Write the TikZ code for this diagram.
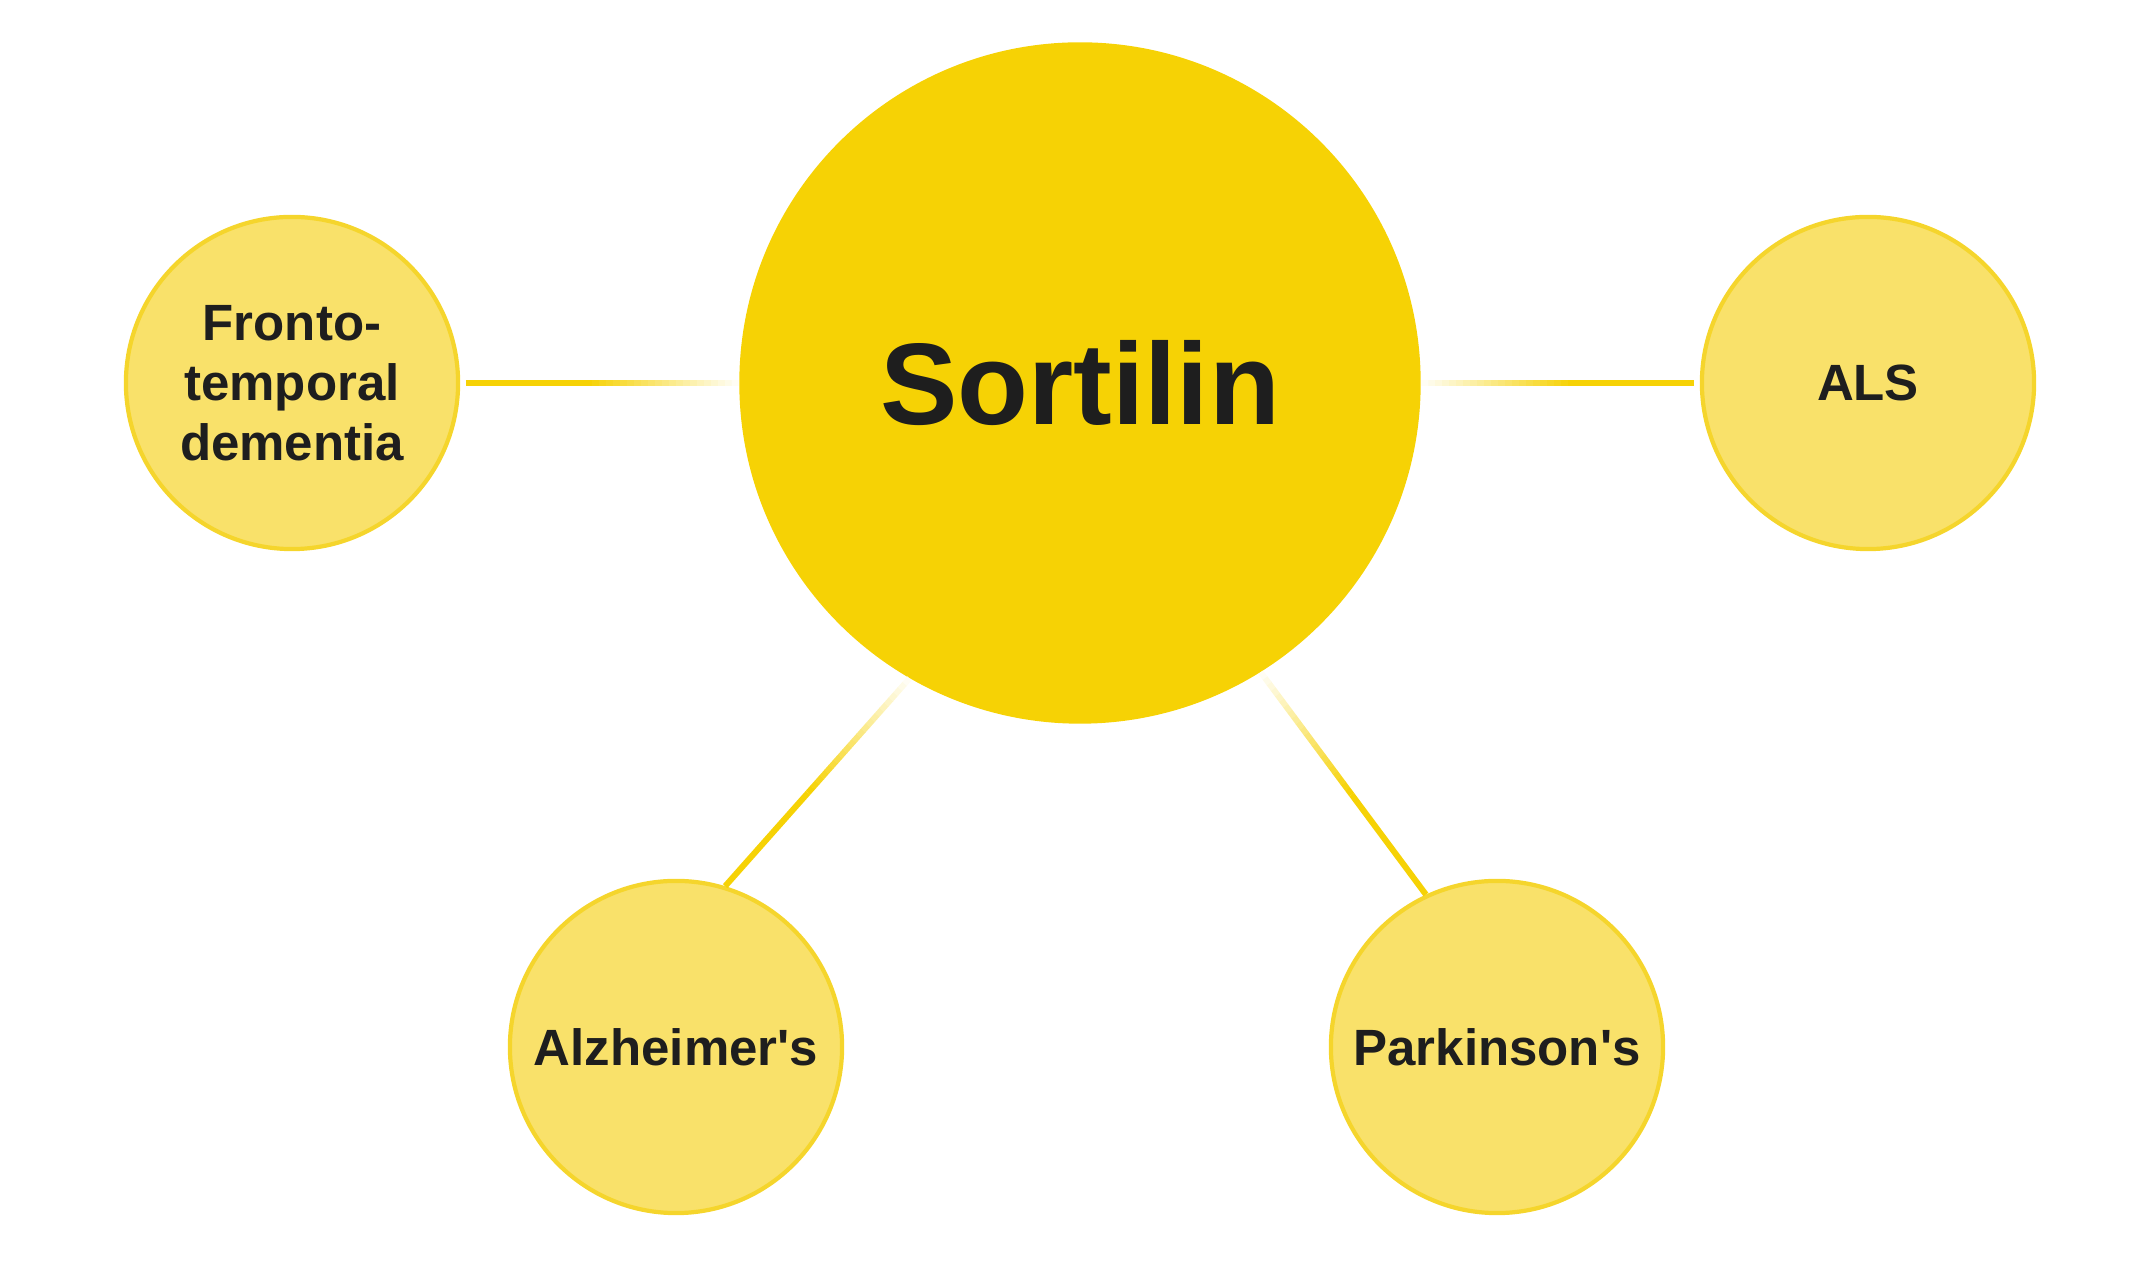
\documentclass[tikz,border=0pt]{standalone}
\usepackage{fontspec}
\setmainfont{Liberation Sans}
\usetikzlibrary{calc}
\definecolor{sortgold}{HTML}{F6D205}
\definecolor{diseasefill}{HTML}{F9E16A}
\definecolor{diseaserim}{HTML}{F5D52C}
\definecolor{labelink}{HTML}{1E1E1E}
\tikzset{
 hub/.style={circle,fill=sortgold,minimum size=6.81cm,inner sep=0pt,
  font=\bfseries\fontsize{33}{36}\selectfont,text=labelink},
 disease/.style={circle,draw=diseaserim,line width=1.2pt,fill=diseasefill,
  minimum size=3.32cm,inner sep=0pt,align=center,
  font=\bfseries\fontsize{14.5}{17}\selectfont,text=labelink},
 link/.style={line width=1.7pt}
}
% solid from the small circle, fading out towards the hub
\newcommand\fadelink[3][0]{%
 \draw[link,draw=sortgold] ($(#2)!#1!(#3)$) -- ($(#2)!0.45!(#3)$);
 \foreach \k in {0,...,21}{%
  \pgfmathsetmacro\ta{0.45+\k*0.025}
  \pgfmathsetmacro\tb{\ta+0.026}
  \pgfmathsetmacro\mix{100-\k*100/22}
  \draw[link,draw=sortgold!\mix!white] ($(#2)!\ta!(#3)$) -- ($(#2)!\tb!(#3)$);
 }}
\begin{document}
\begin{tikzpicture}[x=0.01cm,y=-0.01cm]
 \useasboundingbox (0,0) rectangle (2138,1268);
 \node[hub] (sort) at (1080,383) {Sortilin};
 \node[disease] (ftd) at (292,383) {Fronto-\\temporal\\dementia};
 \node[disease] (als) at (1868,383) {ALS};
 \node[disease] (alz) at (676,1047) {Alzheimer\textquotesingle s};
 \node[disease] (park) at (1497,1047) {Parkinson\textquotesingle s};
 \fadelink[0.02]{ftd.0}{sort.180}
 \fadelink[0.02]{als.180}{sort.0}
 \fadelink{alz.73}{sort.240}
 \fadelink{park.115}{sort.302}
\end{tikzpicture}
\end{document}
